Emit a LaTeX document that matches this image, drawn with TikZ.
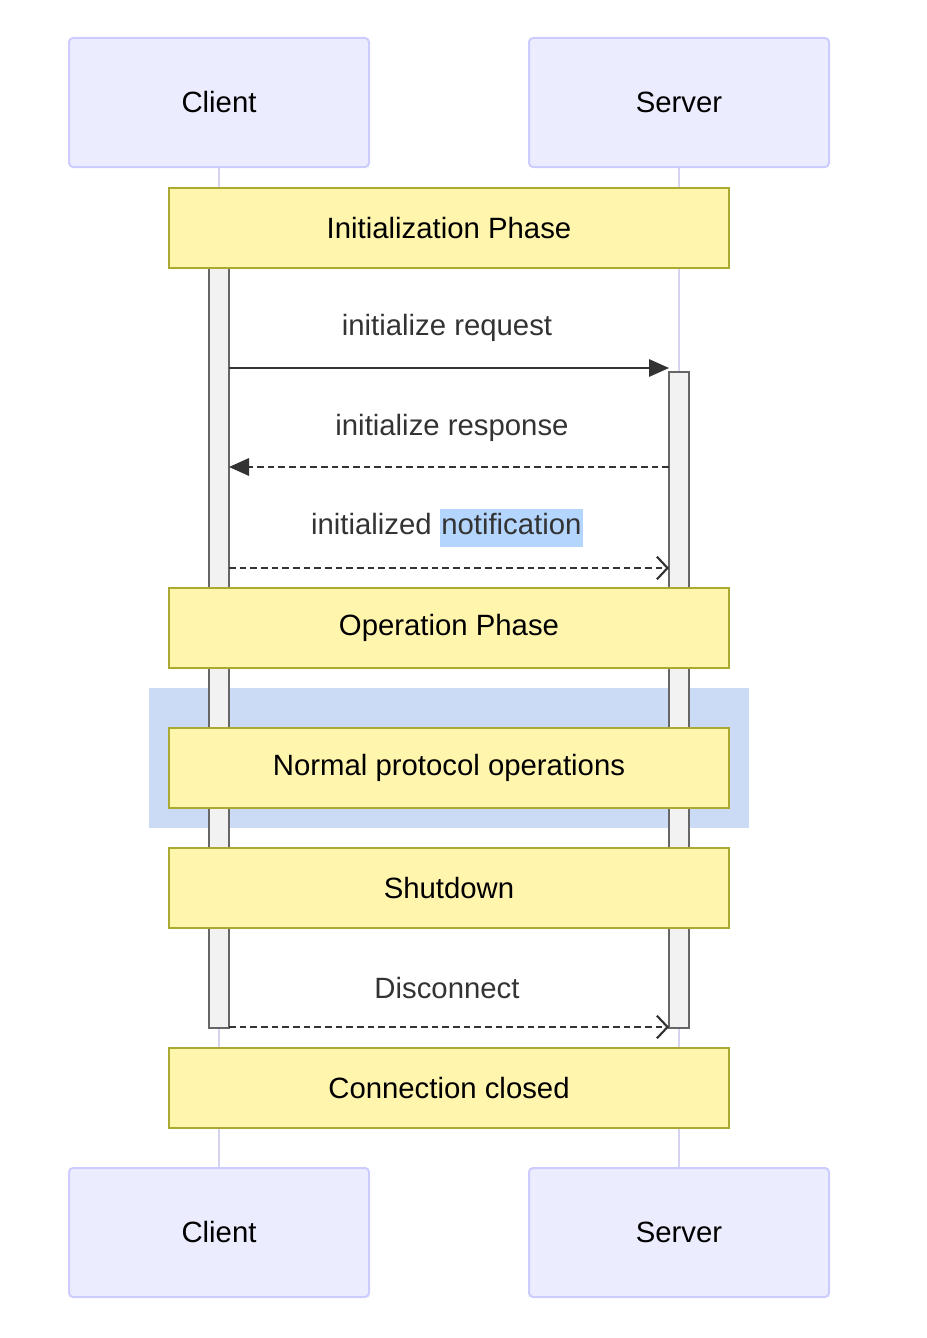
\documentclass[tikz,border=0pt]{standalone}
\usepackage{fontspec}
\setmainfont{Liberation Sans}
\usetikzlibrary{arrows.meta}
\definecolor{actfill}{HTML}{ECECFF}
\definecolor{actline}{HTML}{CCCCFF}
\definecolor{lifel}{HTML}{D6D2F2}
\definecolor{notefill}{HTML}{FFF5AD}
\definecolor{noteline}{HTML}{AAAA33}
\definecolor{loopfill}{HTML}{CCDBF5}
\definecolor{hl}{HTML}{B4D5FE}
\definecolor{txt}{HTML}{333333}
\tikzset{
  x=0.75pt,y=-0.75pt,
  actor/.style={draw=actline,fill=actfill,line width=1.5pt,rounded corners=3pt,font=\fontsize{22}{26}\selectfont},
  note/.style={draw=noteline,fill=notefill,line width=0.8pt,font=\fontsize{22}{26}\selectfont},
  bar/.style={draw=black!60,fill=black!5,line width=0.8pt},
  life/.style={draw=lifel,line width=1.5pt},
  msg/.style={draw=txt,line width=1.6pt},
  lbl/.style={text=txt,font=\fontsize{22}{26}\selectfont},
}
\begin{document}
\begin{tikzpicture}
\useasboundingbox (0,0) rectangle (926,1338);
\coordinate (cl1) at (219,167); \coordinate (cl2) at (219,1168);
\coordinate (sl1) at (679,167); \coordinate (sl2) at (679,1168);
\draw[life] (cl1) -- (cl2);
\draw[life] (sl1) -- (sl2);
\fill[loopfill] (149,688) rectangle (749,828);
\draw[bar] (209,268) rectangle (229,1028);
\draw[bar] (669,372) rectangle (689,1028);
\foreach \n/\x/\y/\t in {c1/69/38/Client,s1/529/38/Server,c2/69/1168/Client,s2/529/1168/Server}
  \draw[actor] (\x,\y) rectangle +(300,129) node[midway] (\n) {\t};
\foreach \n/\y/\t in {n1/188/Initialization Phase,n2/588/Operation Phase,n3/728/Normal protocol operations,n4/848/Shutdown,n5/1048/Connection closed}
  \draw[note] (169,\y) rectangle +(560,80) node[midway] (\n) {\t};
\coordinate (a1) at (229,368); \coordinate (b1) at (669,368);
\coordinate (a2) at (229,467); \coordinate (b2) at (669,467);
\coordinate (a3) at (229,568); \coordinate (b3) at (669,568);
\coordinate (a4) at (229,1027); \coordinate (b4) at (669,1027);
\draw[msg,-{Triangle[length=15pt,width=13pt]}] (a1) -- (b1);
\draw[msg,dashed,dash pattern=on 5pt off 3pt,-{Triangle[length=15pt,width=13pt]}] (b2) -- (a2);
\draw[msg,dash pattern=on 5pt off 3pt,-{Straight Barb[length=8pt,width=17pt,line width=1.6pt]}] (a3) -- (b3);
\draw[msg,dash pattern=on 5pt off 3pt,-{Straight Barb[length=8pt,width=17pt,line width=1.6pt]}] (a4) -- (b4);
\node[lbl] (m1) at (447,328) {initialize request};
\node[lbl] (m2) at (452,428) {initialize response};
\node[lbl] (m3) at (447,528) {initialized {\setlength{\fboxsep}{1pt}\colorbox{hl}{\strut notification}}};
\node[lbl] (m4) at (447,988) {Disconnect};
\end{tikzpicture}
\end{document}
